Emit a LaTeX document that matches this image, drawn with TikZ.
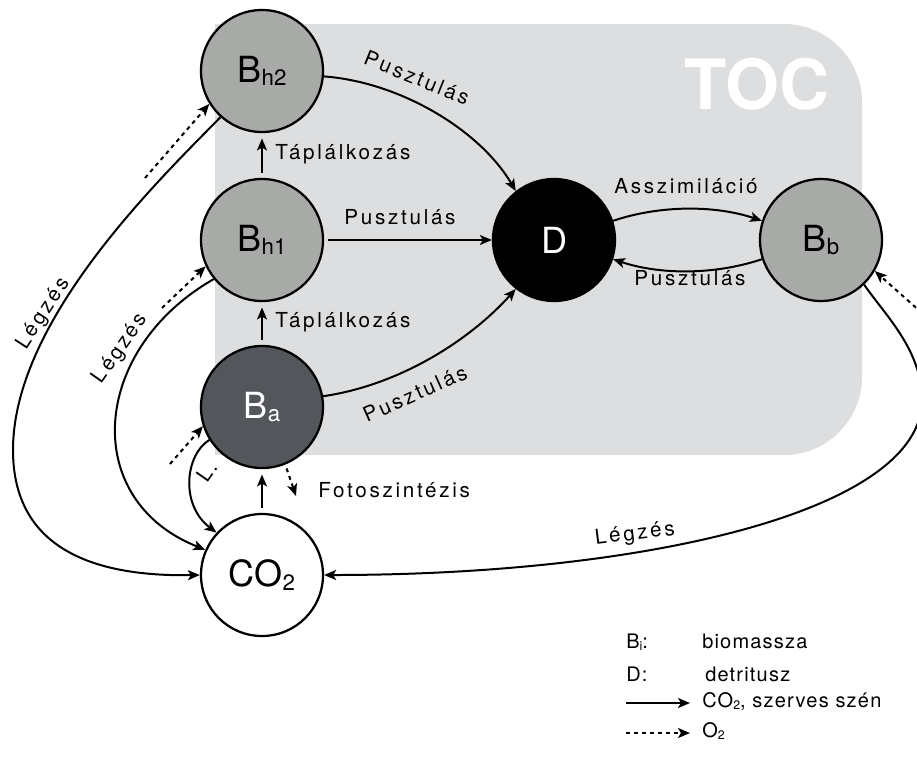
\documentclass[tikz,border=0pt]{standalone}
\usepackage{fontspec}
\setmainfont{TeX Gyre Heros}
\newfontfamily\lblfont[LetterSpace=13]{TeX Gyre Heros}
\newfontfamily\legfont[LetterSpace=6]{TeX Gyre Heros}
\usetikzlibrary{arrows.meta}

\definecolor{tocgray}{RGB}{221,222,223}
\definecolor{bgray}{RGB}{168,170,168}
\definecolor{agray}{RGB}{83,87,92}

\newcommand{\sbs}[1]{\raisebox{-0.1em}{\scalebox{0.62}{#1}}}

\tikzset{
  state/.style={circle, draw, line width=1.7pt, minimum size=91.5pt, inner sep=0pt, font=\fontsize{27}{27}\selectfont},
  live/.style={state, fill=bgray},
  flow/.style={line width=1.5pt, -{Stealth[length=9pt,width=7.5pt,inset=2.2pt]}},
  oflow/.style={flow, dash pattern=on 3pt off 3pt},
  feed/.style={flow, shorten <=4pt, shorten >=4pt},
  lbl/.style={font=\lblfont\fontsize{15.5}{15.5}\selectfont, inner sep=0pt, text height=0.72em, text depth=0pt},
  leg/.style={font=\legfont\fontsize{15}{15}\selectfont, anchor=west, inner sep=0pt, text height=0.72em, text depth=0pt}
}

\begin{document}
\begin{tikzpicture}[x=0.75pt,y=0.75pt,yscale=-1,xscale=1]
\useasboundingbox (0,0) rectangle (917,769);

%Shape: TOC area
\fill[tocgray] (215,455) -- (215,24) -- (784,24) .. controls (827,24) and (862,59) .. (862,102) -- (862,377) .. controls (862,420) and (827,455) .. (784,455) -- cycle;
% Text Node
\node[text=white, font=\fontsize{52}{52}\selectfont\bfseries] (toc) at (757,84) {TOC};

%Shape: Circle
\node[live] (Bh2) at (262,71) {B\sbs{h2}};
\node[live] (Bh1) at (262,240) {B\sbs{h1}};
\node[state, fill=agray, text=white] (Ba) at (262,407) {B\sbs{a}};
\node[state, fill=white] (CO2) at (262,575) {CO\sbs{2}};
\node[state, fill=black, text=white] (D) at (554,240) {D};
\node[live] (Bb) at (821,240) {B\sbs{b}};

%Curve Lines
\draw[flow] (Bh2.-5) .. controls (400,82) and (480,130) .. (D.128);
\draw[flow, shorten <=3pt] (Bh1) -- (D);
\draw[flow] (Ba.10) .. controls (400,385) and (470,340) .. (D.232);
\draw[flow] (D.18) .. controls (660,205) and (715,205) .. (Bb.162);
\draw[flow] (Bb.198) .. controls (715,275) and (660,275) .. (D.-18);

%Straight Lines
\draw[feed] (Ba) -- (Bh1);
\draw[feed] (Bh1) -- (Bh2);
\draw[feed] (CO2) -- (Ba);

%Curve Lines
\draw[flow] (Ba.212) .. controls (185,455) and (180,505) .. (CO2.137);
\draw[flow] (Bh1.219) .. controls (90,350) and (80,500) .. (CO2.156);
\draw[flow] (Bh2.228) .. controls (160,179) and (13,320) .. (13,450) .. controls (13,540) and (80,577) .. (CO2.west);
\draw[flow] (Bb.-46) .. controls (885,315) and (922,350) .. (922,400) .. controls (922,510) and (650,575) .. (CO2.east);

%Dashed Lines
\coordinate (fotoend) at (296,496);
\coordinate (o2a) at (170,464);
\coordinate (o2h1) at (162,308);
\coordinate (o2h2) at (145,178);
\coordinate (o2b) at (922,313);
\draw[oflow, shorten <=3pt] (Ba.-68) -- (fotoend);
\draw[oflow] (o2a) -- (Ba.198);
\draw[oflow] (o2h1) -- (Bh1.205);
\draw[oflow] (o2h2) -- (Bh2.212);
\draw[oflow] (o2b) -- (Bb.-30);

% Text Node
\node[lbl, rotate=-22] (pu1) at (416,80) {Pusztulás};
\node[lbl] (pu2) at (400,220) {Pusztulás};
\node[lbl, rotate=24] (pu3) at (416,396) {Pusztulás};
\node[lbl] (asz) at (686,189) {Asszimiláció};
\node[lbl] (pu4) at (690,281) {Pusztulás};
\node[lbl, anchor=west] (tp1) at (275,155) {Táplálkozás};
\node[lbl, anchor=west] (tp2) at (275,323) {Táplálkozás};
\node[lbl, anchor=west] (foto) at (318,493) {Fotoszintézis};
\node[lbl, rotate=55] (ll) at (209,473) {L.};
\node[lbl, rotate=55] (lg1) at (121,349) {Légzés};
\node[lbl, rotate=57] (lg2) at (44,314) {Légzés};
\node[lbl, rotate=7] (lg3) at (635,535) {Légzés};

%Legend
\coordinate (ls1) at (626,703);
\coordinate (ls2) at (690,703);
\coordinate (lo1) at (626,733);
\coordinate (lo2) at (690,733);
\draw[flow] (ls1) -- (ls2);
\draw[oflow] (lo1) -- (lo2);
\node[leg] (lgB) at (626,644) {B\sbs{i}:};
\node[leg] (lgBt) at (702,644) {biomassza};
\node[leg] (lgD) at (626,677) {D:};
\node[leg] (lgDt) at (705,677) {detritusz};
\node[leg] (lgC) at (702,703) {CO\sbs{2}, szerves szén};
\node[leg] (lgO) at (702,733) {O\sbs{2}};

\end{tikzpicture}
\end{document}
